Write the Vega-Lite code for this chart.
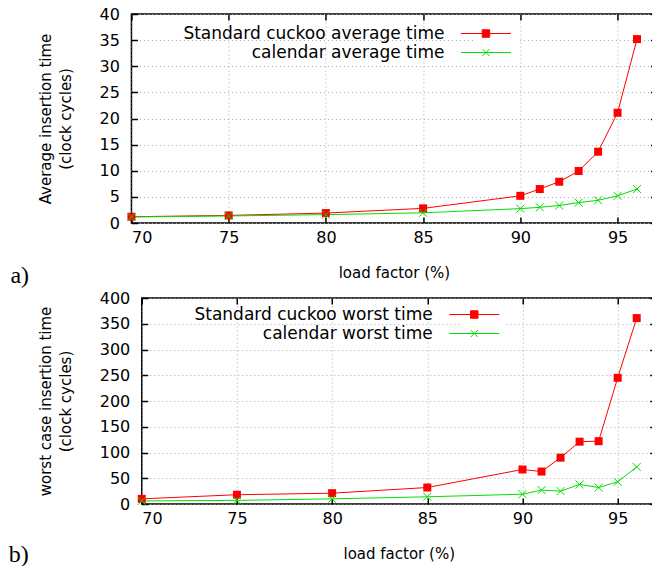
{
  "$schema": "https://vega.github.io/schema/vega-lite/v6.json",
  "background": "white",
  "padding": {"left": 8, "top": 5, "right": 0, "bottom": 0},
  "spacing": 0,
  "columns": 1,
  "center": true,
  "config": {
    "view": {"stroke": "black", "strokeWidth": 1.5},
    "font": "DejaVu Sans",
    "axis": {
      "labelFont": "DejaVu Sans", "labelFontSize": 16, "labelColor": "black",
      "titleFont": "DejaVu Sans", "titleFontSize": 15, "titleFontWeight": "normal", "titleColor": "black",
      "gridColor": "#a8a8a8", "gridDash": [1, 3], "gridWidth": 1,
      "domain": false, "tickColor": "black", "tickSize": -6, "tickWidth": 1.5
    },
    "legend": {
      "orient": "none", "title": null, "labelFont": "DejaVu Sans", "labelFontSize": 17, "labelColor": "black",
      "labelAlign": "right", "labelOffset": -50, "labelLimit": 0, "symbolSize": 100, "symbolStrokeWidth": 1,
      "rowPadding": 1, "padding": 4, "fillColor": "white"
    }
  },
  "resolve": {"scale": {"color": "independent"}, "legend": {"color": "independent"}},
  "concat": [
    {
      "width": 525, "height": 209,
      "title": {"text": "a)", "orient": "bottom", "anchor": "start", "frame": "group", "font": "Liberation Serif", "fontSize": 24, "fontWeight": "normal", "color": "black", "dx": -121, "offset": -16},
      "data": {"values": [
        {"load": 70, "time": 1.2, "series": "Standard cuckoo average time"},
        {"load": 75, "time": 1.45, "series": "Standard cuckoo average time"},
        {"load": 80, "time": 1.9, "series": "Standard cuckoo average time"},
        {"load": 85, "time": 2.8, "series": "Standard cuckoo average time"},
        {"load": 90, "time": 5.2, "series": "Standard cuckoo average time"},
        {"load": 91, "time": 6.5, "series": "Standard cuckoo average time"},
        {"load": 92, "time": 7.9, "series": "Standard cuckoo average time"},
        {"load": 93, "time": 9.95, "series": "Standard cuckoo average time"},
        {"load": 94, "time": 13.65, "series": "Standard cuckoo average time"},
        {"load": 95, "time": 21.1, "series": "Standard cuckoo average time"},
        {"load": 96, "time": 35.2, "series": "Standard cuckoo average time"},
        {"load": 70, "time": 1.15, "series": "calendar average time"},
        {"load": 75, "time": 1.35, "series": "calendar average time"},
        {"load": 80, "time": 1.6, "series": "calendar average time"},
        {"load": 85, "time": 1.95, "series": "calendar average time"},
        {"load": 90, "time": 2.75, "series": "calendar average time"},
        {"load": 91, "time": 3.0, "series": "calendar average time"},
        {"load": 92, "time": 3.35, "series": "calendar average time"},
        {"load": 93, "time": 3.9, "series": "calendar average time"},
        {"load": 94, "time": 4.35, "series": "calendar average time"},
        {"load": 95, "time": 5.2, "series": "calendar average time"},
        {"load": 96, "time": 6.5, "series": "calendar average time"}
      ]},
      "resolve": {"axis": {"x": "independent", "y": "independent"}},
      "layer": [
        {
          "mark": {"type": "line", "strokeWidth": 1},
          "encoding": {
            "x": {"field": "load", "type": "quantitative", "scale": {"domain": [70, 97], "nice": false},
                  "axis": {"values": [70, 75, 80, 85, 90, 95], "title": "load factor (%)", "grid": true, "labelPadding": 12, "titlePadding": 20}},
            "y": {"field": "time", "type": "quantitative", "scale": {"domain": [0, 40], "nice": false},
                  "axis": {"values": [0, 5, 10, 15, 20, 25, 30, 35, 40], "title": ["Average insertion time", "(clock cycles)"], "titleLineHeight": 20, "grid": true, "labelPadding": 18, "titlePadding": 26}},
            "color": {"field": "series", "type": "nominal",
                      "scale": {"domain": ["Standard cuckoo average time", "calendar average time"], "range": ["#ff0000", "#00e000"]},
                      "legend": {"legendX": 342, "legendY": 7,
                        "encode": {"symbols": {"update": {
                          "shape": {"signal": "indexof(datum.value, 'Standard') === 0 ? 'M-5,0H5M-0.75,-0.75H0.75V0.75H-0.75Z' : 'M-5,0H5M-0.7,-0.7L0.7,0.7M-0.7,0.7L0.7,-0.7'"},
                          "fill": {"signal": "indexof(datum.value, 'Standard') === 0 ? '#ff0000' : 'transparent'"},
                          "stroke": {"signal": "indexof(datum.value, 'Standard') === 0 ? '#ff0000' : '#00e000'"},
                          "opacity": {"value": 1}
                        }}}}}
          }
        },
        {
          "transform": [{"filter": "indexof(datum.series, 'Standard') === 0"}],
          "mark": {"type": "point", "shape": "square", "filled": true, "color": "#ff0000", "size": 64, "opacity": 1},
          "encoding": {"x": {"field": "load", "type": "quantitative", "axis": null}, "y": {"field": "time", "type": "quantitative", "axis": null}}
        },
        {
          "transform": [{"filter": "indexof(datum.series, 'calendar') === 0"}],
          "mark": {"type": "point", "shape": "M-1,-1L1,1M-1,1L1,-1", "filled": false, "color": "#00e000", "size": 64, "strokeWidth": 1, "opacity": 1},
          "encoding": {"x": {"field": "load", "type": "quantitative", "axis": null}, "y": {"field": "time", "type": "quantitative", "axis": null}}
        },
        {
          "mark": {"type": "point", "opacity": 0},
          "encoding": {
            "x": {"field": "load", "type": "quantitative", "axis": {"orient": "top", "values": [70, 75, 80, 85, 90, 95], "labels": false, "title": null, "grid": false}},
            "y": {"field": "time", "type": "quantitative", "axis": {"orient": "right", "values": [0, 5, 10, 15, 20, 25, 30, 35, 40], "labels": true, "labelColor": "transparent", "labelPadding": -4, "title": null, "grid": false}}
          }
        }
      ]
    },
    {
      "width": 514, "height": 206,
      "title": {"text": "b)", "orient": "bottom", "anchor": "start", "frame": "group", "font": "Liberation Serif", "fontSize": 24, "fontWeight": "normal", "color": "black", "dx": -133, "offset": -18},
      "data": {"values": [
        {"load": 70, "time": 10, "series": "Standard cuckoo worst time"},
        {"load": 75, "time": 18, "series": "Standard cuckoo worst time"},
        {"load": 80, "time": 21, "series": "Standard cuckoo worst time"},
        {"load": 85, "time": 32, "series": "Standard cuckoo worst time"},
        {"load": 90, "time": 67, "series": "Standard cuckoo worst time"},
        {"load": 91, "time": 63, "series": "Standard cuckoo worst time"},
        {"load": 92, "time": 90, "series": "Standard cuckoo worst time"},
        {"load": 93, "time": 121, "series": "Standard cuckoo worst time"},
        {"load": 94, "time": 122, "series": "Standard cuckoo worst time"},
        {"load": 95, "time": 245, "series": "Standard cuckoo worst time"},
        {"load": 96, "time": 361, "series": "Standard cuckoo worst time"},
        {"load": 70, "time": 6, "series": "calendar worst time"},
        {"load": 75, "time": 7, "series": "calendar worst time"},
        {"load": 80, "time": 10, "series": "calendar worst time"},
        {"load": 85, "time": 14, "series": "calendar worst time"},
        {"load": 90, "time": 19, "series": "calendar worst time"},
        {"load": 91, "time": 27, "series": "calendar worst time"},
        {"load": 92, "time": 25, "series": "calendar worst time"},
        {"load": 93, "time": 38, "series": "calendar worst time"},
        {"load": 94, "time": 32, "series": "calendar worst time"},
        {"load": 95, "time": 43, "series": "calendar worst time"},
        {"load": 96, "time": 72, "series": "calendar worst time"}
      ]},
      "resolve": {"axis": {"x": "independent", "y": "independent"}},
      "layer": [
        {
          "mark": {"type": "line", "strokeWidth": 1},
          "encoding": {
            "x": {"field": "load", "type": "quantitative", "scale": {"domain": [70, 97], "nice": false},
                  "axis": {"values": [70, 75, 80, 85, 90, 95], "title": "load factor (%)", "grid": true, "labelPadding": 12, "titlePadding": 20}},
            "y": {"field": "time", "type": "quantitative", "scale": {"domain": [0, 400], "nice": false},
                  "axis": {"values": [0, 50, 100, 150, 200, 250, 300, 350, 400], "title": ["worst case insertion time", "(clock cycles)"], "titleLineHeight": 20, "grid": true, "labelPadding": 18, "titlePadding": 26}},
            "color": {"field": "series", "type": "nominal",
                      "scale": {"domain": ["Standard cuckoo worst time", "calendar worst time"], "range": ["#ff0000", "#00e000"]},
                      "legend": {"legendX": 320, "legendY": 4,
                        "encode": {"symbols": {"update": {
                          "shape": {"signal": "indexof(datum.value, 'Standard') === 0 ? 'M-5,0H5M-0.75,-0.75H0.75V0.75H-0.75Z' : 'M-5,0H5M-0.7,-0.7L0.7,0.7M-0.7,0.7L0.7,-0.7'"},
                          "fill": {"signal": "indexof(datum.value, 'Standard') === 0 ? '#ff0000' : 'transparent'"},
                          "stroke": {"signal": "indexof(datum.value, 'Standard') === 0 ? '#ff0000' : '#00e000'"},
                          "opacity": {"value": 1}
                        }}}}}
          }
        },
        {
          "transform": [{"filter": "indexof(datum.series, 'Standard') === 0"}],
          "mark": {"type": "point", "shape": "square", "filled": true, "color": "#ff0000", "size": 64, "opacity": 1},
          "encoding": {"x": {"field": "load", "type": "quantitative", "axis": null}, "y": {"field": "time", "type": "quantitative", "axis": null}}
        },
        {
          "transform": [{"filter": "indexof(datum.series, 'calendar') === 0"}],
          "mark": {"type": "point", "shape": "M-1,-1L1,1M-1,1L1,-1", "filled": false, "color": "#00e000", "size": 64, "strokeWidth": 1, "opacity": 1},
          "encoding": {"x": {"field": "load", "type": "quantitative", "axis": null}, "y": {"field": "time", "type": "quantitative", "axis": null}}
        },
        {
          "mark": {"type": "point", "opacity": 0},
          "encoding": {
            "x": {"field": "load", "type": "quantitative", "axis": {"orient": "top", "values": [70, 75, 80, 85, 90, 95], "labels": false, "title": null, "grid": false}},
            "y": {"field": "time", "type": "quantitative", "axis": {"orient": "right", "values": [0, 50, 100, 150, 200, 250, 300, 350, 400], "labels": false, "title": null, "grid": false}}
          }
        }
      ]
    }
  ]
}
